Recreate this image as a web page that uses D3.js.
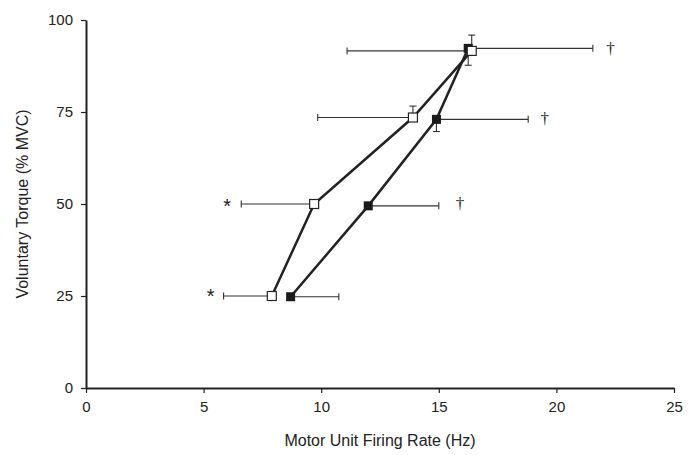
<!DOCTYPE html>
<html>
<head>
<meta charset="utf-8">
<script src="https://cdn.jsdelivr.net/npm/d3@7"></script>
<style>
  body { margin: 0; background: #fff; }
  text { font-family: "Liberation Sans", Arial, sans-serif; fill: #222; }
</style>
</head>
<body>
<script>
// torque levels (% MVC)
var torque = [25, 50, 75, 92];

// open squares
var openRate = [7.9, 9.7, 13.9, 16.4];
var openTorque = [25, 50, 73.5, 91.6];
var openErrX = [2.05, 3.1, 4.05, 5.3];     // drawn to the left
var openErrYUp = [0, 0, 3.1, 4.3];

// filled squares
var fillRate = [8.7, 12.0, 14.9, 16.25];
var fillTorque = [24.8, 49.5, 73.0, 92.3];
var fillErrX = [2.05, 3.0, 3.9, 5.3];      // drawn to the right
var fillErrYDown = [0, 0, 3.3, 4.6];

var xTicks = [0, 5, 10, 15, 20, 25];
var yTicks = [0, 25, 50, 75, 100];

var marks = [
  { x: 22.3, y: 92.3, label: "\u2020" },
  { x: 19.5, y: 73.3, label: "\u2020" },
  { x: 15.9, y: 50.2, label: "\u2020" },
  { x: 6.0, y: 50.3, label: "*" },
  { x: 5.3, y: 25.8, label: "*" }
];

var width = 695, height = 455;
var margin = { top: 20, right: 21, bottom: 67, left: 86 };
var w = width - margin.left - margin.right, h = height - margin.top - margin.bottom;

var xScale = d3.scaleLinear().domain([0, 25]).range([0, w]);
var yScale = d3.scaleLinear().domain([0, 100]).range([h, 0]);

var svg = d3.select("body").append("svg")
    .attr("width", width)
    .attr("height", height)
  .append("g")
    .attr("transform", "translate(" + margin.left + "," + margin.top + ")");

var xAxis = svg.append("g")
    .attr("transform", "translate(0," + h + ")")
    .call(d3.axisBottom(xScale).tickValues(xTicks).tickSize(5).tickPadding(8).tickSizeOuter(0));
var yAxis = svg.append("g")
    .call(d3.axisLeft(yScale).tickValues(yTicks).tickSize(5).tickPadding(8).tickSizeOuter(0));

[xAxis, yAxis].forEach(function(a) {
  a.select(".domain").attr("stroke", "#222").attr("stroke-width", 2);
  a.selectAll(".tick line").attr("stroke", "#222").attr("stroke-width", 1.2);
  a.selectAll(".tick text").style("font-size", "15px").attr("fill", "#222");
});

var openPts = openRate.map(function(d, i) { return { x: d, y: openTorque[i], ex: openErrX[i], ey: openErrYUp[i] }; });
var fillPts = fillRate.map(function(d, i) { return { x: d, y: fillTorque[i], ex: fillErrX[i], ey: fillErrYDown[i] }; });

var line = d3.line()
    .x(function(d) { return xScale(d.x); })
    .y(function(d) { return yScale(d.y); });

// horizontal error bars
function hbar(d, x1, x2) {
  var y = yScale(d.y);
  svg.append("line").attr("x1", xScale(x1)).attr("x2", xScale(x2)).attr("y1", y).attr("y2", y)
    .attr("stroke", "#333").attr("stroke-width", 1.1);
  svg.append("line").attr("x1", xScale(x2)).attr("x2", xScale(x2)).attr("y1", y - 3.5).attr("y2", y + 3.5)
    .attr("stroke", "#333").attr("stroke-width", 1.1);
}
function vbar(d, y2) {
  var x = xScale(d.x);
  svg.append("line").attr("x1", x).attr("x2", x).attr("y1", yScale(d.y)).attr("y2", yScale(y2))
    .attr("stroke", "#333").attr("stroke-width", 1.1);
  svg.append("line").attr("x1", x - 3.5).attr("x2", x + 3.5).attr("y1", yScale(y2)).attr("y2", yScale(y2))
    .attr("stroke", "#333").attr("stroke-width", 1.1);
}
openPts.forEach(function(d) {
  hbar(d, d.x, d.x - d.ex);
  if (d.ey) vbar(d, d.y + d.ey);
});
fillPts.forEach(function(d) {
  hbar(d, d.x, d.x + d.ex);
  if (d.ey) vbar(d, d.y - d.ey);
});

svg.append("path").datum(openPts).attr("d", line)
  .attr("fill", "none").attr("stroke", "#222").attr("stroke-width", 2.5);
svg.append("path").datum(fillPts).attr("d", line)
  .attr("fill", "none").attr("stroke", "#222").attr("stroke-width", 2.5);

var s = 9;
svg.selectAll(".fsq").data(fillPts).enter().append("rect")
  .attr("x", function(d) { return xScale(d.x) - s / 2; })
  .attr("y", function(d) { return yScale(d.y) - s / 2; })
  .attr("width", s).attr("height", s)
  .attr("fill", "#1a1a1a");
svg.selectAll(".osq").data(openPts).enter().append("rect")
  .attr("x", function(d) { return xScale(d.x) - s / 2; })
  .attr("y", function(d) { return yScale(d.y) - s / 2; })
  .attr("width", s).attr("height", s)
  .attr("fill", "#fff").attr("stroke", "#222").attr("stroke-width", 1.2);

svg.selectAll(".mark").data(marks).enter().append("text")
  .attr("x", function(d) { return xScale(d.x); })
  .attr("y", function(d) { return yScale(d.y); })
  .attr("dy", function(d) { return d.label === "*" ? "0.5em" : "0.35em"; })
  .attr("text-anchor", "middle")
  .style("font-size", function(d) { return d.label === "*" ? "20px" : "17px"; })
  .style("font-family", function(d) { return d.label === "*" ? "Liberation Sans, Arial, sans-serif" : "Liberation Serif, serif"; })
  .style("fill", "#222")
  .text(function(d) { return d.label; });

svg.append("text")
  .attr("x", w / 2)
  .attr("y", h + 58)
  .attr("text-anchor", "middle")
  .style("font-size", "16px")
  .text("Motor Unit Firing Rate (Hz)");

svg.append("text")
  .attr("transform", "rotate(-90)")
  .attr("x", -h / 2)
  .attr("y", -margin.left + 28)
  .attr("text-anchor", "middle")
  .style("font-size", "16px")
  .text("Voluntary Torque (% MVC)");
</script>
</body>
</html>
